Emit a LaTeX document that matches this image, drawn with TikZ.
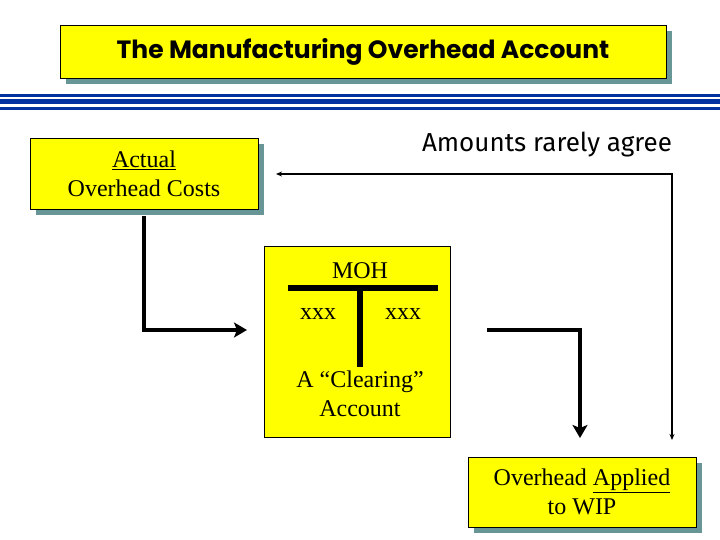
\documentclass[tikz,border=0pt]{standalone}
\usepackage{fontspec}
\setmainfont{Liberation Serif}
\newfontfamily\titlefont{Poppins}
\newfontfamily\notefont{Fira Sans}
\usetikzlibrary{arrows.meta,shadows}
\definecolor{boxyellow}{RGB}{255,255,0}
\definecolor{shadowgray}{RGB}{104,150,150}
\definecolor{rulesblue}{RGB}{0,51,160}
\tikzset{
  shadowbox/.style={draw,line width=0.8pt,fill=boxyellow,inner sep=0pt,align=center,
    font=\fontsize{24}{29}\selectfont,
    drop shadow={shadow xshift=6pt,shadow yshift=-6pt,fill=shadowgray,opacity=1}},
  plainbox/.style={draw,line width=0.8pt,fill=boxyellow,inner sep=0pt},
  boxtext/.style={inner sep=0pt,align=center,font=\fontsize{24}{29}\selectfont},
  flow/.style={line width=3.5pt,-{Stealth[length=13pt,width=15pt,inset=3pt]}},
  tlines/.style={line width=6pt},
  agree/.style={line width=1.5pt,{Stealth[length=6pt,width=5pt]}-{Stealth[length=6pt,width=5pt]}}
}
\begin{document}
\begin{tikzpicture}[x=1pt,y=-1pt]
\useasboundingbox (0,0) rectangle (720,540);
\fill[rulesblue] (0,94) rectangle (720,97.5);
\fill[rulesblue] (0,99) rectangle (720,104.5);
\fill[rulesblue] (0,107) rectangle (720,110);
\node[shadowbox,minimum width=606pt,minimum height=53pt,font=\titlefont\bfseries\fontsize{25}{28}\selectfont] (title) at (363,51.5) {The Manufacturing Overhead Account};
\node[shadowbox,minimum width=228pt,minimum height=71pt] (actual) at (144,173.5) {\underline{Actual}\\Overhead Costs};
\node[plainbox,minimum width=186pt,minimum height=191pt] (moh) at (357,342) {};
\node[shadowbox,minimum width=228pt,minimum height=70pt] (applied) at (582,492) {Overhead \underline{Applied}\\to WIP};
\node[inner sep=0pt,font=\notefont\fontsize{26}{30}\selectfont] (rarely) at (547,145) {Amounts rarely agree};
\node[boxtext] (mohname) at (360,271) {MOH};
\node[boxtext] (debit) at (318,314) {xxx};
\node[boxtext] (credit) at (403,314) {xxx};
\node[boxtext] (clearing) at (360,394) {A ``Clearing''\\Account};
\coordinate (tl) at (288,288);
\coordinate (tr) at (438,288);
\coordinate (tt) at (360,288);
\coordinate (tb) at (360,367);
\draw[tlines] (tl) -- (tr);
\draw[tlines] (tt) -- (tb);
\coordinate (actualout) at (144,216);
\coordinate (mohin) at (247,330);
\coordinate (mohout) at (487,330);
\coordinate (appliedin) at (580,438);
\coordinate (agreeleft) at (276,174);
\coordinate (agreebottom) at (672,440);
\draw[flow] (actualout) |- (mohin);
\draw[flow] (mohout) -| (appliedin);
\draw[agree] (agreeleft) -| (agreebottom);
\end{tikzpicture}
\end{document}
